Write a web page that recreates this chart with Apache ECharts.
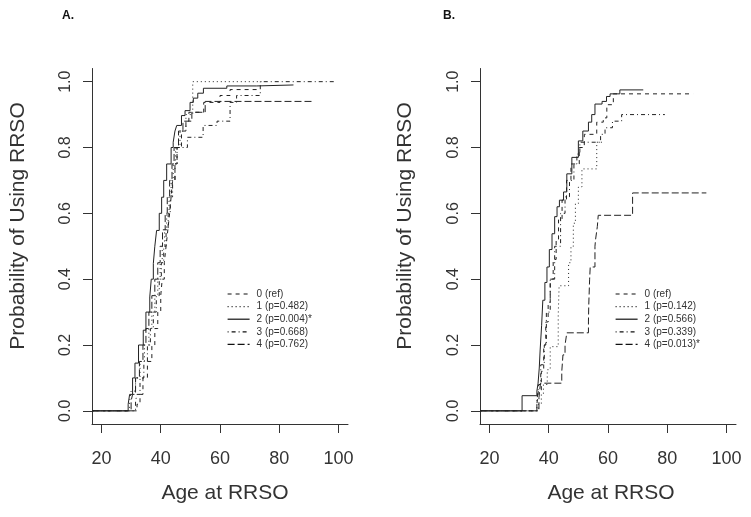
<!DOCTYPE html>
<html>
<head>
<meta charset="utf-8">
<script src="https://cdn.jsdelivr.net/npm/echarts@6/dist/echarts.min.js"></script>
<style>
  html, body { margin: 0; padding: 0; background: #fff; }
  #chart { width: 751px; height: 517px; }
</style>
</head>
<body>
<div id="chart"></div>
<script>
// tick values shared by both panels
var ageTicks = [20, 40, 60, 80, 100];
var probTicks = [0, 0.2, 0.4, 0.6, 0.8, 1.0];

// legend labels
var namesA = ['0 (ref)', '1 (p=0.482)', '2 (p=0.004)*', '3 (p=0.668)', '4 (p=0.762)'];
var namesB = ['0 (ref)', '1 (p=0.142)', '2 (p=0.566)', '3 (p=0.339)', '4 (p=0.013)*'];

// panel A, [age, cumulative probability]
var a0 = [[17,0],[32,0.02],[33,0.05],[34,0.1],[35.5,0.15],[37,0.2],[38,0.25],[39,0.3],[40,0.35],[40.5,0.4],[41.2,0.45],[41.8,0.5],[42.4,0.55],[43,0.6],[43.5,0.65],[44,0.7],[44.8,0.75],[45.5,0.8],[47,0.85],[48.5,0.88],[49.5,0.907],[54.5,0.937],[60,0.958],[63.4,0.976],[73.5,0.976]];
var a1 = [[17,0],[29.5,0.03],[30,0.06],[31.5,0.1],[33,0.15],[34.5,0.2],[36,0.25],[37,0.3],[38,0.35],[39,0.4],[39.8,0.45],[40.5,0.5],[41.3,0.55],[42,0.6],[42.8,0.65],[43.5,0.7],[44.2,0.75],[45,0.8],[46.5,0.85],[48.5,0.9],[50.8,1.0],[74,1.0]];
var a2 = [[17,0],[29,0.02],[29.5,0.05],[30.5,0.1],[31.3,0.145],[32.5,0.2],[34.1,0.245],[35,0.3],[36.3,0.346],[36.8,0.4],[37.5,0.448],[38,0.5],[38.6,0.548],[39.5,0.6],[40.3,0.649],[41,0.7],[42,0.75],[43.5,0.8],[44.2,0.816],[44.8,0.85],[45.4,0.867],[47,0.897],[48.2,0.912],[49.9,0.937],[51,0.95],[52.5,0.965],[54.4,0.98],[62.3,0.987],[72.4,0.99],[84.8,0.99]];
var a3 = [[17,0],[31.5,0.03],[32,0.05],[33,0.1],[34.3,0.15],[35.5,0.2],[36.5,0.25],[37.5,0.3],[38.5,0.35],[39.5,0.4],[40.2,0.45],[41,0.5],[41.8,0.55],[42.5,0.6],[43.2,0.65],[44,0.7],[44.8,0.75],[45.5,0.8],[49,0.831],[54.3,0.867],[59,0.88],[63.4,0.937],[65.6,0.958],[73.6,1.0],[99,1.0]];
var a4 = [[17,0],[30,0.03],[30.5,0.05],[31.5,0.1],[32.8,0.15],[34,0.2],[35,0.25],[36,0.3],[37,0.35],[38,0.4],[39,0.45],[39.8,0.5],[40.6,0.55],[41.5,0.6],[42.2,0.65],[43,0.7],[43.8,0.75],[44.5,0.8],[46,0.85],[47.5,0.88],[50.5,0.907],[55,0.94],[91.5,0.94]];

// panel B
var b0 = [[17,0],[36,0.02],[36.5,0.06],[37.5,0.12],[38.3,0.2],[39,0.27],[39.8,0.33],[40.5,0.4],[41.5,0.46],[42.5,0.52],[43.3,0.58],[44.5,0.64],[46,0.7],[47.5,0.75],[50.3,0.8],[52,0.84],[56.2,0.877],[58.4,0.89],[59.6,0.93],[61.8,0.963],[88.7,0.963]];
var b1 = [[17,0],[36.5,0.02],[37.5,0.05],[38.2,0.08],[39.5,0.125],[40.5,0.195],[43.2,0.29],[43.5,0.38],[46.7,0.45],[47.5,0.5],[48.3,0.57],[49,0.63],[50,0.68],[51.2,0.735],[56.2,0.816],[58.4,0.816]];
var b2 = [[17,0],[31,0.046],[36,0.06],[36.4,0.084],[36.8,0.13],[37.1,0.185],[37.6,0.26],[38,0.336],[38.7,0.39],[39.4,0.437],[40.2,0.49],[41.1,0.538],[42,0.59],[42.8,0.62],[43.6,0.64],[45,0.665],[46.1,0.72],[47.8,0.77],[50,0.82],[51.5,0.85],[53.4,0.877],[54.5,0.9],[55.6,0.932],[58,0.94],[59.5,0.955],[60.7,0.963],[64,0.975],[71.9,0.975]];
var b3 = [[17,0],[36,0.03],[36.6,0.08],[37.3,0.14],[38.5,0.2],[39.2,0.3],[40.5,0.4],[42,0.5],[44,0.6],[45.5,0.65],[47,0.7],[48.5,0.75],[49.5,0.78],[50.5,0.816],[57.5,0.84],[59,0.86],[61.5,0.88],[64.6,0.9],[79.2,0.9]];
var b4 = [[17,0],[36.7,0.04],[37.2,0.084],[44.4,0.12],[44.8,0.17],[45.5,0.2],[46.1,0.237],[53.4,0.27],[53.5,0.32],[53.8,0.4],[54,0.437],[55.6,0.5],[55.8,0.52],[56.4,0.56],[56.7,0.594],[68.3,0.662],[93.2,0.662]];

var dashes = [[4, 4], [1, 3], 'solid', [1, 3, 4, 3], [7, 3]];
var ink = '#222';
var font = 'Liberation Sans, Arial, sans-serif';

function makeSeries(names, sets, idx) {
    return sets.map(function (d, i) {
        return {
            name: names[i],
            type: 'line',
            step: 'end',
            xAxisIndex: idx,
            yAxisIndex: idx,
            symbol: 'none',
            silent: true,
            lineStyle: { color: ink, width: 1, type: dashes[i] },
            itemStyle: { color: ink },
            data: d
        };
    });
}

function xAx(idx) {
    return {
        gridIndex: idx, type: 'value', min: 16.8, max: 103.2,
        axisLine: { show: true, onZero: false, lineStyle: { color: '#333', width: 1 } },
        axisTick: { show: true, length: 9, customValues: ageTicks, lineStyle: { color: '#333' } },
        axisLabel: { customValues: ageTicks, fontSize: 18, color: '#333', margin: 26, fontFamily: font },
        splitLine: { show: false }
    };
}

function yAx(idx) {
    return {
        gridIndex: idx, type: 'value', min: -0.04, max: 1.04,
        axisLine: { show: true, onZero: false, lineStyle: { color: '#333', width: 1 } },
        axisTick: { show: true, length: 9, customValues: probTicks, lineStyle: { color: '#333' } },
        axisLabel: {
            customValues: probTicks, rotate: 90, align: 'center', verticalAlign: 'bottom',
            fontSize: 16, color: '#333', margin: 18, fontFamily: font,
            formatter: function (v) { return v.toFixed(1); }
        },
        splitLine: { show: false }
    };
}

function legendAt(names, left) {
    return {
        data: names, orient: 'vertical', left: left, top: 284,
        itemWidth: 22, itemHeight: 12, itemGap: 2.6,
        selectedMode: false,
        itemStyle: { opacity: 0 },
        lineStyle: { width: 1.2, color: '#111' },
        textStyle: { fontSize: 10, color: '#333', fontFamily: font, padding: [0, 0, 0, 2] }
    };
}

function axisTitle(text, x, y, rot) {
    return {
        type: 'text', x: x, y: y, rotation: rot, silent: true,
        style: {
            text: text, fill: '#333', font: '21px ' + font,
            textAlign: 'center', textVerticalAlign: 'middle'
        }
    };
}

var chart = echarts.init(document.getElementById('chart'));
chart.setOption({
    animation: false,
    backgroundColor: '#fff',
    title: [
        { text: 'A.', left: 62, top: 10, padding: 0, textStyle: { fontSize: 12, fontWeight: 'bold', color: '#111', fontFamily: font } },
        { text: 'B.', left: 443, top: 10, padding: 0, textStyle: { fontSize: 12, fontWeight: 'bold', color: '#111', fontFamily: font } }
    ],
    grid: [
        { left: 92, top: 68.5, width: 256, height: 355.5 },
        { left: 480, top: 68.5, width: 256, height: 355.5 }
    ],
    xAxis: [xAx(0), xAx(1)],
    yAxis: [yAx(0), yAx(1)],
    legend: [legendAt(namesA, 222), legendAt(namesB, 610)],
    graphic: [
        axisTitle('Age at RRSO', 225, 493, 0),
        axisTitle('Age at RRSO', 611, 493, 0),
        axisTitle('Probability of Using RRSO', 18, 226, Math.PI / 2),
        axisTitle('Probability of Using RRSO', 405, 226, Math.PI / 2)
    ],
    series: makeSeries(namesA, [a0, a1, a2, a3, a4], 0)
        .concat(makeSeries(namesB, [b0, b1, b2, b3, b4], 1))
});
</script>
</body>
</html>
